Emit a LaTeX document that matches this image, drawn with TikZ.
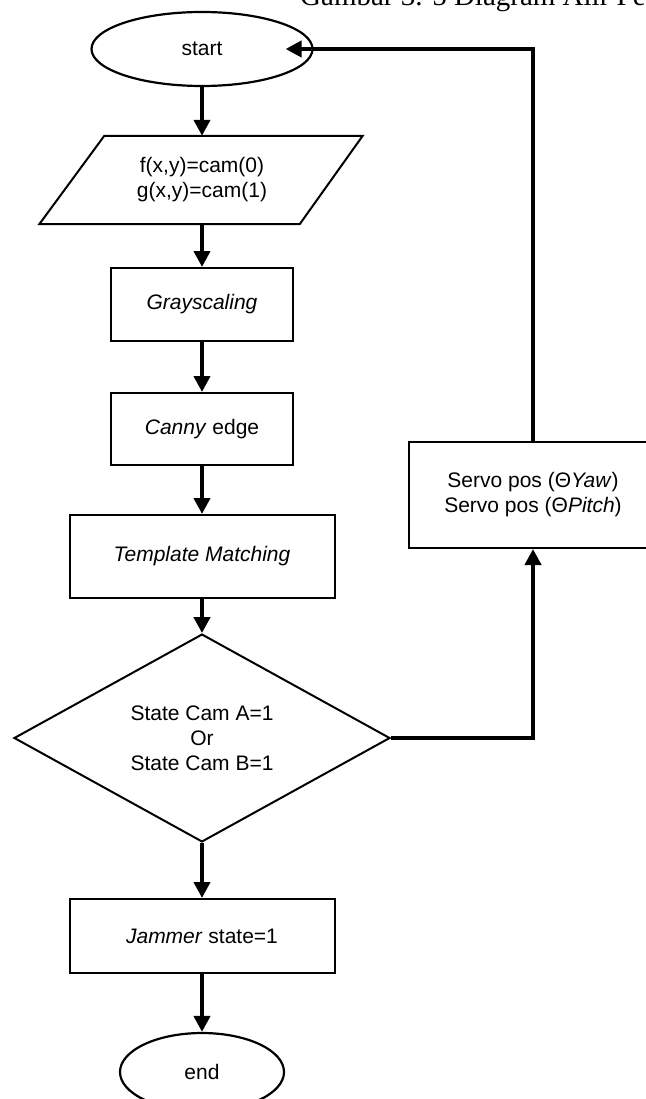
\documentclass[tikz,border=0pt]{standalone}
\usepackage{fontspec}
\setmainfont{Liberation Sans}
\newfontfamily\capfont{Liberation Serif}
\usetikzlibrary{arrows.meta,shapes.geometric,calc}
\begin{document}
\begin{tikzpicture}[x=1pt,y=-1pt,
  every node/.style={font=\fontsize{21}{25}\selectfont, align=center, inner sep=0pt},
  box/.style={draw, line width=2pt, rectangle},
  term/.style={draw, line width=2.2pt, ellipse},
  flow/.style={line width=4.2pt, -{Triangle[length=16pt,width=16pt]}},
  caption/.style={font=\capfont\fontsize{29}{34}\selectfont, anchor=base west}
]
\useasboundingbox (0,0) rectangle (645,1099);
\fill[white] (0,0) rectangle (645,1099);

\node[caption] (cap) at (300,6) {Gambar 3. 5 Diagram Alir Pe};

\node[term, minimum width=221, minimum height=74] (start) at (202,49) {start};
\node[minimum width=195, minimum height=88] (io) at (202,180) {f(x,y)=cam(0)\\g(x,y)=cam(1)};
\draw[line width=2pt] (io.north west) -- ($(io.north east)+(63,0)$) -- (io.south east) -- ($(io.south west)+(-65,0)$) -- cycle;
\node[box, minimum width=182, minimum height=73] (gray) at (202,304.5) {\textit{Grayscaling}};
\node[box, minimum width=182, minimum height=72] (canny) at (202,429) {\textit{Canny} edge};
\node[box, minimum width=265, minimum height=83] (tm) at (202,556.5) {\textit{Template Matching}};
\node[draw, diamond, line width=2pt, minimum width=376, minimum height=184] (dec) at (202,738) {State Cam A=1\\Or\\State Cam B=1};
\node[box, minimum width=265, minimum height=74] (jam) at (202,936) {\textit{Jammer} state=1};
\node[term, minimum width=164, minimum height=78] (end) at (202,1072) {end};
\node[box, minimum width=248, minimum height=106] (servo) at (533,495) {Servo pos (Θ\textit{Yaw})\\Servo pos (Θ\textit{Pitch})};

\coordinate (startin) at ($(start.east)+(-28,0)$);

\draw[flow] (start) -- (io);
\draw[flow] (io) -- (gray);
\draw[flow] (gray) -- (canny);
\draw[flow] (canny) -- (tm);
\draw[flow] (tm) -- (dec);
\draw[flow] (dec) -- (jam);
\draw[flow] (jam) -- (end);
\draw[flow] (dec.east) -| (servo.south);
\draw[flow] (servo.north) |- (startin);
\end{tikzpicture}
\end{document}
